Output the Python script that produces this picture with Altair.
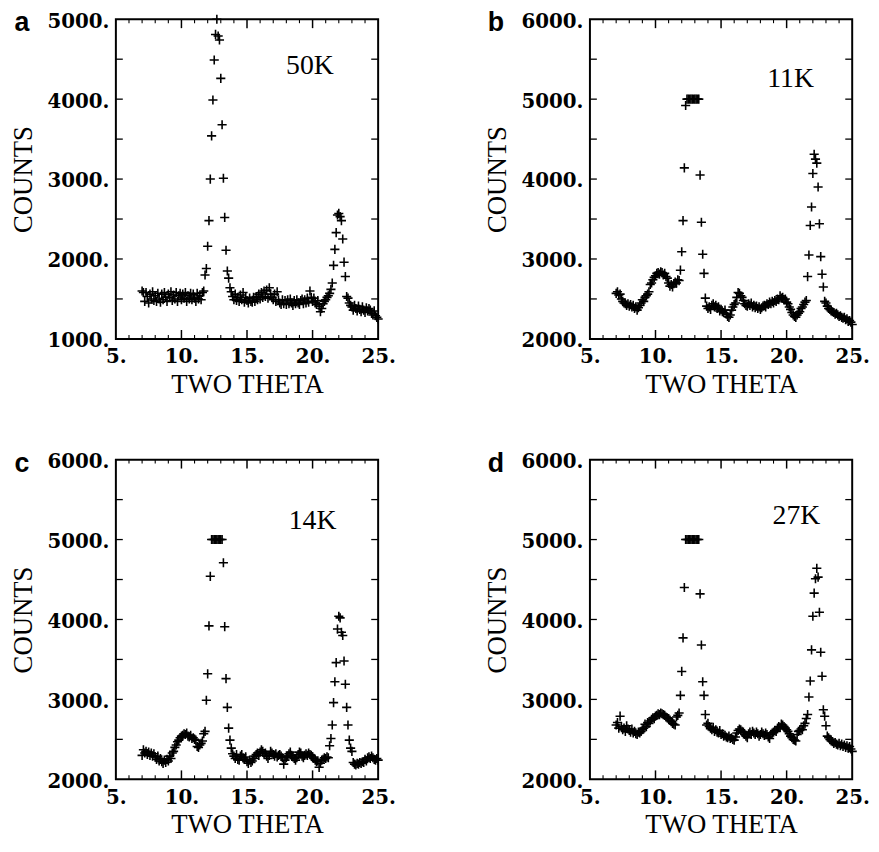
import altair as alt
import pandas as pd

# ---------------- data ----------------
two_theta = [
    7.0, 7.1, 7.2, 7.3, 7.4, 7.5, 7.6, 7.7, 7.8, 7.9,
    8.0, 8.1, 8.2, 8.3, 8.4, 8.5, 8.6, 8.7, 8.8, 8.9,
    9.0, 9.1, 9.2, 9.3, 9.4, 9.5, 9.6, 9.7, 9.8, 9.9,
    10.0, 10.1, 10.2, 10.3, 10.4, 10.5, 10.6, 10.7, 10.8, 10.9,
    11.0, 11.1, 11.2, 11.3, 11.4, 11.5, 11.6, 11.7, 11.8, 11.9,
    12.0, 12.1, 12.2, 12.3, 12.4, 12.5, 12.6, 12.7, 12.8, 12.9,
    13.0, 13.1, 13.2, 13.3, 13.4, 13.5, 13.6, 13.7, 13.8, 13.9,
    14.0, 14.1, 14.2, 14.3, 14.4, 14.5, 14.6, 14.7, 14.8, 14.9,
    15.0, 15.1, 15.2, 15.3, 15.4, 15.5, 15.6, 15.7, 15.8, 15.9,
    16.0, 16.1, 16.2, 16.3, 16.4, 16.5, 16.6, 16.7, 16.8, 16.9,
    17.0, 17.1, 17.2, 17.3, 17.4, 17.5, 17.6, 17.7, 17.8, 17.9,
    18.0, 18.1, 18.2, 18.3, 18.4, 18.5, 18.6, 18.7, 18.8, 18.9,
    19.0, 19.1, 19.2, 19.3, 19.4, 19.5, 19.6, 19.7, 19.8, 19.9,
    20.0, 20.1, 20.2, 20.3, 20.4, 20.5, 20.6, 20.7, 20.8, 20.9,
    21.0, 21.1, 21.2, 21.3, 21.4, 21.5, 21.6, 21.7, 21.8, 21.9,
    22.0, 22.1, 22.2, 22.3, 22.4, 22.5, 22.6, 22.7, 22.8, 22.9,
    23.0, 23.1, 23.2, 23.3, 23.4, 23.5, 23.6, 23.7, 23.8, 23.9,
    24.0, 24.1, 24.2, 24.3, 24.4, 24.5, 24.6, 24.7, 24.8, 24.9,
    25.0,
]

counts_50K = [
    1600, 1580, 1470, 1580, 1530, 1450, 1560, 1500, 1590, 1480,
    1540, 1470, 1570, 1500, 1460, 1560, 1490, 1580, 1520, 1470,
    1560, 1520, 1590, 1480, 1550, 1500, 1580, 1470, 1540, 1570,
    1490, 1560, 1510, 1580, 1470, 1540, 1500, 1570, 1490, 1560,
    1510, 1470, 1570, 1500, 1540, 1490, 1580, 1600, 1800, 1880,
    2160, 2480, 3000, 3540, 3990, 4490, 4810, 5000, 4790, 4740,
    4260, 3680, 3010, 2520, 2110, 1850, 1760, 1640, 1590, 1530,
    1490, 1560, 1480, 1520, 1470, 1550, 1490, 1580, 1460, 1520,
    1480, 1450, 1510, 1470, 1460, 1520, 1470, 1530, 1490, 1560,
    1500, 1580, 1520, 1600, 1530, 1610, 1510, 1640, 1560, 1520,
    1490, 1560, 1470, 1590, 1490, 1450, 1430, 1490, 1440, 1480,
    1430, 1490, 1440, 1500, 1450, 1420, 1480, 1440, 1490, 1450,
    1430, 1480, 1500, 1440, 1490, 1450, 1510, 1460, 1600, 1520,
    1470, 1510, 1450, 1430, 1480, 1410, 1340, 1380, 1440, 1470,
    1490, 1520, 1540, 1570, 1620, 1700, 1920, 2120, 2330, 2550,
    2570, 2530, 2480, 2250, 1960, 1780, 1530, 1510, 1450, 1420,
    1400, 1360, 1420, 1380, 1350, 1410, 1370, 1340, 1400, 1360,
    1330, 1390, 1350, 1380, 1360, 1320, 1300, 1350, 1290, 1270,
    1250,
]

counts_11K = [
    2570, 2590, 2550, 2560, 2500, 2470, 2450, 2440, 2420, 2440,
    2410, 2430, 2400, 2420, 2380, 2400, 2360, 2390, 2420, 2450,
    2490, 2470, 2520, 2540, 2560, 2590, 2680, 2700, 2740, 2770,
    2790, 2820, 2830, 2810, 2840, 2830, 2800, 2820, 2780, 2760,
    2700, 2660, 2680, 2650, 2690, 2710, 2700, 2740, 2730, 2860,
    3090, 3480, 4140, 4920, 5000, 5000, 5000, 5000, 5000, 5000,
    5000, 5000, 5000, 5000, 4050, 3460, 3060, 2820, 2510, 2410,
    2380, 2400, 2370, 2420, 2440, 2400, 2420, 2380, 2400, 2350,
    2370, 2340, 2330, 2360, 2310, 2280, 2270, 2300, 2360, 2400,
    2430, 2450, 2520, 2580, 2570, 2540, 2520, 2480, 2440, 2420,
    2410, 2440, 2420, 2450, 2400, 2420, 2390, 2410, 2380, 2400,
    2370, 2390, 2410, 2420, 2400, 2440, 2430, 2460, 2440, 2470,
    2450, 2480, 2470, 2500, 2490, 2540, 2510, 2520, 2490, 2500,
    2460, 2440, 2400, 2370, 2330, 2300, 2280, 2270, 2300, 2320,
    2340, 2380, 2400, 2430, 2460, 2480, 2780, 3050, 3420, 3650,
    4070, 4310, 4250, 4200, 3900, 3440, 3030, 2810, 2650, 2470,
    2450, 2410, 2380, 2370, 2350, 2340, 2330, 2310, 2320, 2300,
    2280, 2290, 2270, 2260, 2270, 2240, 2250, 2220, 2230, 2210,
    2180,
]

counts_14K = [
    2300, 2370, 2330, 2350, 2310, 2340, 2300, 2330, 2290, 2320,
    2280, 2250, 2290, 2230, 2260, 2220, 2200, 2240, 2210, 2250,
    2230, 2290, 2260, 2330, 2350, 2400, 2430, 2470, 2490, 2520,
    2540, 2550, 2570, 2560, 2580, 2540, 2530, 2550, 2510, 2520,
    2500, 2490, 2410, 2400, 2430, 2450, 2480, 2570, 2600, 2990,
    3320, 3920, 4540, 5000, 5000, 5000, 5000, 5000, 5000, 5000,
    5000, 5000, 4710, 3910, 3260, 2900, 2640, 2490, 2390, 2320,
    2290, 2260, 2310, 2250, 2240, 2290, 2310, 2270, 2250, 2280,
    2220, 2200, 2240, 2210, 2230, 2260, 2290, 2310, 2330, 2300,
    2340, 2370, 2350, 2320, 2330, 2290, 2260, 2300, 2350, 2330,
    2310, 2290, 2320, 2280, 2300, 2310, 2290, 2270, 2190, 2240,
    2270, 2290, 2320, 2340, 2300, 2280, 2260, 2240, 2270, 2310,
    2340, 2330, 2290, 2270, 2300, 2320, 2300, 2330, 2310, 2300,
    2280, 2260, 2240, 2220, 2230, 2150, 2200, 2240, 2250, 2270,
    2260, 2280, 2270, 2420, 2510, 2680, 2960, 3220, 3460, 3880,
    4040, 4020, 3840, 3800, 3480, 3190, 2900, 2680, 2490, 2390,
    2350, 2210, 2190, 2180, 2200, 2190, 2210, 2200, 2220, 2210,
    2250, 2230, 2270, 2280, 2260, 2290, 2270, 2250, 2240, 2260,
    2240,
]

counts_27K = [
    2680, 2710, 2640, 2790, 2660, 2620, 2640, 2600, 2670, 2630,
    2610, 2590, 2630, 2580, 2600, 2570, 2560, 2590, 2580, 2600,
    2620, 2640, 2690, 2660, 2710, 2700, 2730, 2750, 2770, 2760,
    2790, 2800, 2820, 2810, 2830, 2820, 2810, 2800, 2780, 2770,
    2760, 2740, 2720, 2700, 2690, 2680, 2780, 2800, 2830, 3050,
    3350, 3770, 4400, 5000, 5000, 5000, 5000, 5000, 5000, 5000,
    5000, 5000, 5000, 5000, 4320, 3680, 3220, 3050, 2810, 2680,
    2700, 2660, 2640, 2620, 2650, 2600, 2620, 2590, 2580, 2610,
    2560, 2570, 2540, 2550, 2530, 2520, 2540, 2510, 2520, 2500,
    2490, 2530, 2580, 2610, 2630, 2620, 2600, 2590, 2560, 2540,
    2520, 2570, 2590, 2560, 2600, 2580, 2560, 2590, 2570, 2540,
    2560, 2590, 2570, 2550, 2580, 2560, 2530, 2510, 2560, 2580,
    2590, 2610, 2600, 2630, 2660, 2650, 2690, 2680, 2660, 2640,
    2620, 2600, 2570, 2540, 2520, 2500, 2490, 2480, 2560, 2600,
    2610, 2630, 2620, 2670, 2700, 2760, 2810, 3030, 3230, 3620,
    4040, 4330, 4510, 4640, 4530, 4090, 3590, 3290, 2870, 2790,
    2670, 2540, 2520, 2500, 2480, 2470, 2450, 2460, 2440, 2430,
    2450, 2420, 2440, 2410, 2430, 2400, 2420, 2390, 2410, 2380,
    2350,
]

panel_letters = ["a", "b", "c", "d"]
temperatures = ["50K", "11K", "14K", "27K"]
temp_label_x = [19.8, 20.3, 20.0, 20.75]
temp_label_y = [4420, 5250, 5230, 5290]
series = [counts_50K, counts_11K, counts_14K, counts_27K]
y_domains = [[1000, 5000], [2000, 6000], [2000, 6000], [2000, 6000]]
y_label_values = [
    [1000, 2000, 3000, 4000, 5000],
    [2000, 3000, 4000, 5000, 6000],
    [2000, 3000, 4000, 5000, 6000],
    [2000, 3000, 4000, 5000, 6000],
]
y_tick_values = [
    [1500, 2000, 2500, 3000, 3500, 4000, 4500],
    [2500, 3000, 3500, 4000, 4500, 5000, 5500],
    [2500, 3000, 3500, 4000, 4500, 5000, 5500],
    [2500, 3000, 3500, 4000, 4500, 5000, 5500],
]
x_domain = [5, 25]
x_label_values = [5, 10, 15, 20, 25]
x_major_ticks = [10, 15, 20]
x_minor_ticks = [6, 7, 8, 9, 11, 12, 13, 14, 16, 17, 18, 19, 21, 22, 23, 24]

# ---------------- styling ----------------
W, H = 265, 323
CROSS = "M-1,0L1,0M0,-1L0,1"
LABEL_FONT = "DejaVu Serif"
TITLE_FONT = "Liberation Serif"


def panel(i):
    xs = alt.Scale(domain=x_domain, nice=False, zero=False)
    ys = alt.Scale(domain=y_domains[i], nice=False, zero=False)

    xaxis = alt.Axis(
        values=x_label_values, labelExpr="datum.value + '.'",
        ticks=False, domain=False, grid=False,
        labelFont=LABEL_FONT, labelFontWeight="bold", labelFontSize=20,
        labelColor="black", labelPadding=8, labelFlush=False, labelOverlap=False,
        title="TWO THETA", titleFont=TITLE_FONT, titleFontSize=27,
        titleFontWeight="normal", titleColor="black", titlePadding=5,
    )
    yaxis = alt.Axis(
        values=y_label_values[i], labelExpr="datum.value + '.'",
        ticks=False, domain=False, grid=False,
        labelFont=LABEL_FONT, labelFontWeight="bold", labelFontSize=20,
        labelColor="black", labelPadding=7, labelOverlap=False, labelFlush=False,
        labelOffset=2,
        title="COUNTS", titleFont=TITLE_FONT, titleFontSize=27,
        titleFontWeight="normal", titleColor="black", titlePadding=10,
    )

    df = pd.DataFrame({"two_theta": two_theta, "counts": series[i]})
    pts = alt.Chart(df).mark_point(
        shape=CROSS, size=85, filled=False, color="black",
        strokeWidth=1.6, opacity=1,
    ).encode(
        x=alt.X("two_theta:Q", scale=xs, axis=xaxis),
        y=alt.Y("counts:Q", scale=ys, axis=yaxis),
    )

    xmaj = pd.DataFrame({"t": x_major_ticks})
    xmin = pd.DataFrame({"t": x_minor_ticks})
    ytk = pd.DataFrame({"t": y_tick_values[i]})

    def xrule(d, y0, y1, sw):
        return alt.Chart(d).mark_rule(color="black", strokeWidth=sw).encode(
            x=alt.X("t:Q", scale=xs, axis=xaxis),
            y=alt.value(y0), y2=alt.value(y1),
        )

    def yrule(d, x0, x1):
        return alt.Chart(d).mark_rule(color="black", strokeWidth=1.3).encode(
            y=alt.Y("t:Q", scale=ys, axis=yaxis),
            x=alt.value(x0), x2=alt.value(x1),
        )

    ticks = [
        xrule(xmaj, H, H - 9, 1.5), xrule(xmaj, 0, 9, 1.5),
        xrule(xmin, H, H - 4, 1.1), xrule(xmin, 0, 4, 1.1),
        yrule(ytk, 0, 7), yrule(ytk, W, W - 7),
    ]

    tdf = pd.DataFrame({"x": [temp_label_x[i]], "y": [temp_label_y[i]],
                        "label": [temperatures[i]]})
    temp = alt.Chart(tdf).mark_text(
        font=TITLE_FONT, fontSize=28, color="black", baseline="middle",
    ).encode(
        x=alt.X("x:Q", scale=xs, axis=xaxis),
        y=alt.Y("y:Q", scale=ys, axis=yaxis),
        text="label:N",
    )

    ldf = pd.DataFrame({"label": [panel_letters[i]]})
    letter = alt.Chart(ldf).mark_text(
        font="Liberation Sans", fontWeight="bold", fontSize=27,
        color="black", align="center", baseline="alphabetic",
    ).encode(x=alt.value(-95), y=alt.value(12), text="label:N")

    return alt.layer(pts, *ticks, temp, letter).properties(width=W, height=H)


chart = alt.concat(
    *[panel(i) for i in range(4)],
    columns=2,
    spacing={"row": 122, "column": 214},
    bounds="flush",
).configure_view(
    stroke="black", strokeWidth=2,
).properties(
    padding={"left": 0, "top": -4, "right": 0, "bottom": 0},
    background="white",
)

chart.save("out.html", embed_options={"renderer": "svg", "actions": False})
